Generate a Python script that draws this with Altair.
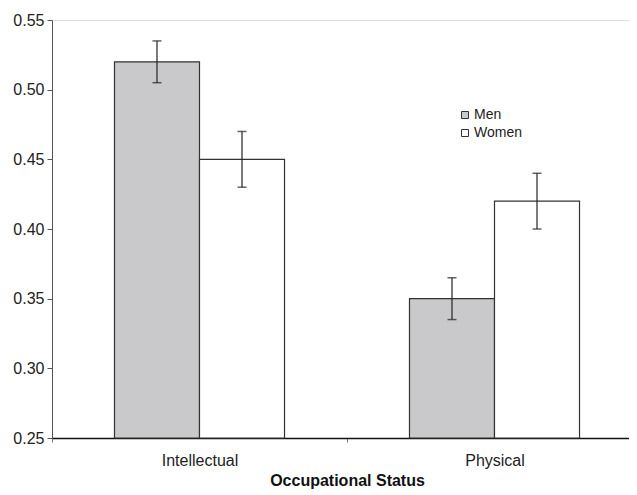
import altair as alt
import pandas as pd

categories = ["Intellectual", "Intellectual", "Physical", "Physical"]
groups = ["Men", "Women", "Men", "Women"]
means = [0.52, 0.45, 0.35, 0.42]
lows = [0.505, 0.43, 0.335, 0.40]
highs = [0.535, 0.47, 0.365, 0.44]
y_ticks = [0.25, 0.30, 0.35, 0.40, 0.45, 0.50, 0.55]

df = pd.DataFrame({"cat": categories, "grp": groups, "mean": means, "lo": lows, "hi": highs})

FONT = "Liberation Sans"

x_enc = alt.X(
    "cat:N",
    scale=alt.Scale(range=[0, 590], paddingInner=0, paddingOuter=0),
    axis=alt.Axis(
        title="Occupational Status",
        titleFontSize=16,
        titleFontWeight="bold",
        titleColor="#111",
        titleX=295,
        titlePadding=4,
        labelAngle=0,
        labelFontSize=16,
        labelColor="#222",
        labelPadding=10,
        tickBand="extent",
        tickSize=4,
        tickColor="#777",
        domainColor="#111",
        domainWidth=1.5,
    ),
)
xoff = alt.XOffset("grp:N", scale=alt.Scale(paddingOuter=0.735, paddingInner=0))

y_scale = alt.Scale(domain=[0.25, 0.55], nice=False, zero=False)

bars = alt.Chart(df).mark_bar(stroke="#333", strokeWidth=1.2).encode(
    x=x_enc,
    xOffset=xoff,
    y=alt.Y(
        "mean:Q",
        scale=y_scale,
        axis=alt.Axis(
            title=None,
            values=y_ticks,
            format=".2f",
            labelFontSize=16,
            labelColor="#222",
            labelPadding=3,
            tickSize=5,
            tickColor="#555",
            domainColor="#555",
            grid=False,
        ),
    ),
    y2=alt.datum(0.25),
    fill=alt.Fill(
        "grp:N",
        scale=alt.Scale(domain=["Men", "Women"], range=["#c9c9cb", "#ffffff"]),
        legend=alt.Legend(
            title=None,
            orient="none",
            legendX=406,
            legendY=88,
            padding=0,
            symbolType="square",
            symbolSize=49,
            symbolStrokeColor="#333",
            symbolStrokeWidth=1,
            labelFontSize=14,
            labelColor="#222",
            labelOffset=2,
            rowPadding=4,
        ),
    ),
)

rules = alt.Chart(df).mark_rule(color="#222", strokeWidth=1.2).encode(
    x=alt.X("cat:N"),
    xOffset=xoff,
    y=alt.Y("lo:Q", scale=y_scale),
    y2="hi:Q",
)

caps_hi = alt.Chart(df).mark_tick(color="#222", size=9, thickness=1.5, orient="horizontal").encode(
    x=alt.X("cat:N"),
    xOffset=xoff,
    y=alt.Y("hi:Q", scale=y_scale),
)
caps_lo = alt.Chart(df).mark_tick(color="#222", size=9, thickness=1.5, orient="horizontal").encode(
    x=alt.X("cat:N"),
    xOffset=xoff,
    y=alt.Y("lo:Q", scale=y_scale),
)

chart = (
    alt.layer(bars, rules, caps_hi, caps_lo)
    .properties(
        width=577,
        height=418,
        autosize=alt.AutoSizeParams(type="none"),
        padding={"left": 44, "top": 12, "right": 0, "bottom": 52},
    )
    .configure_view(stroke=None)
    .configure(font=FONT)
)

chart.save("out.html", embed_options={"renderer": "svg", "actions": False})
